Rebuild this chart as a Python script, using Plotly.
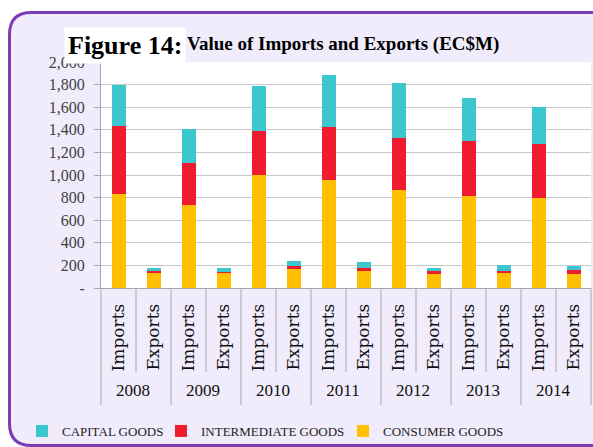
import plotly.graph_objects as go

years = ["2008", "2009", "2010", "2011", "2012", "2013", "2014"]
flows = ["Imports", "Exports"]
consumer_goods = [828, 132, 736, 135, 996, 168, 957, 150, 863, 124, 810, 132, 795, 124]
intermediate_goods = [603, 18, 371, 8, 391, 23, 466, 24, 465, 26, 495, 21, 477, 35]
capital_goods = [369, 27, 298, 37, 401, 51, 465, 59, 486, 30, 374, 47, 327, 38]
y_tickvals = [0, 200, 400, 600, 800, 1000, 1200, 1400, 1600, 1800, 2000]
y_ticktext = ["-", "200", "400", "600", "800", "1,000", "1,200", "1,400", "1,600", "1,800", "2,000"]

inner_style = "<span style='font-family:DejaVu Serif;font-size:17px'>{}</span>"
x_outer = [y for y in years for _ in flows]
x_inner = [inner_style.format(f) for _ in years for f in flows]
x = [x_outer, x_inner]

W, H = 593, 447
L, R, T, B = 101, 591, 62, 288
PW, PH = R - L, B - T


def px(v):
    return (v - L) / PW


def py(v):
    return (B - v) / PH


fig = go.Figure()
series = [
    ("CONSUMER GOODS", consumer_goods, "#FFC000", "legend3", 343),
    ("INTERMEDIATE GOODS", intermediate_goods, "#EE1C2E", "legend2", 161),
    ("CAPITAL GOODS", capital_goods, "#3CC6CE", "legend", 22),
]
legend_cfg = {}
for name, vals, col, lg, lx in series:
    fig.add_trace(go.Bar(x=x, y=vals, name=name, marker=dict(color=col, line=dict(width=0)),
                         width=0.4, legend=lg))
    legend_cfg[lg] = dict(orientation="h", xref="container", yref="container",
                          x=lx / W, xanchor="left", y=1 - 431 / H, yanchor="middle",
                          font=dict(family="Liberation Serif", size=13, color="#222222"),
                          bgcolor="rgba(0,0,0,0)", itemwidth=30)

# frame
x0, y0, x1, y1, r = 9.5, 12.5, 610, 445.5, 22
path = (f"M {px(x0 + r)},{py(y0)} L {px(x1)},{py(y0)} L {px(x1)},{py(y1)} "
        f"L {px(x0 + r)},{py(y1)} Q {px(x0)},{py(y1)} {px(x0)},{py(y1 - r)} "
        f"L {px(x0)},{py(y0 + r)} Q {px(x0)},{py(y0)} {px(x0 + r)},{py(y0)} Z")
shapes = [
    dict(type="path", path=path, xref="paper", yref="paper", layer="below",
         fillcolor="#F0ECFC", line=dict(color="#7A3DB5", width=3)),
    dict(type="rect", xref="paper", yref="paper", x0=0, x1=1, y0=0, y1=1, layer="below",
         fillcolor="white", line=dict(width=0)),
]
n = len(x_inner)
for i in range(n + 1):
    shapes.append(dict(type="line", xref="paper", yref="paper", x0=i / n, x1=i / n,
                       y0=0, y1=py(372), line=dict(color="#A6A6A6", width=1)))
for i in range(0, n + 1, 2):
    shapes.append(dict(type="line", xref="paper", yref="paper", x0=i / n, x1=i / n,
                       y0=py(372), y1=py(405), line=dict(color="#A6A6A6", width=1)))

fig.update_layout(
    width=W, height=H,
    margin=dict(l=L, r=W - R, t=T, b=H - B, autoexpand=False),
    paper_bgcolor="white", plot_bgcolor="rgba(0,0,0,0)",
    barmode="stack", bargap=0.6,
    shapes=shapes,
    showlegend=True,
    annotations=[
        dict(text="<b>Figure 14:</b>", xref="paper", yref="paper", x=px(64), y=py(45),
             xanchor="left", yanchor="middle", showarrow=False, bgcolor="white", borderpad=3,
             font=dict(family="Liberation Serif", size=26, color="black")),
        dict(text="<b>Value of Imports and Exports (EC$M)</b>", xref="paper", yref="paper",
             x=px(185), y=py(44), xanchor="left", yanchor="middle", showarrow=False,
             font=dict(family="Liberation Serif", size=19, color="black")),
    ],
    **legend_cfg,
)
fig.update_xaxes(type="multicategory", tickangle=-90, showline=True, linecolor="#A6A6A6",
                 showdividers=False, ticks="", automargin=False, ticklabelstandoff=8,
                 tickfont=dict(family="Liberation Serif", size=17, color="#111111"))
fig.update_yaxes(range=[0, 2000], tickvals=y_tickvals, ticktext=y_ticktext, showgrid=True,
                 gridcolor="#C8C8C8", gridwidth=1, showline=True, linecolor="#A6A6A6",
                 ticks="outside", ticklen=6, tickcolor="#A6A6A6", zeroline=False,
                 automargin=False, ticklabelstandoff=6,
                 tickfont=dict(family="Liberation Serif", size=16, color="#404040"))

fig.write_html("out.html", post_script="document.body.style.margin='0';",
               config={"displayModeBar": False})
